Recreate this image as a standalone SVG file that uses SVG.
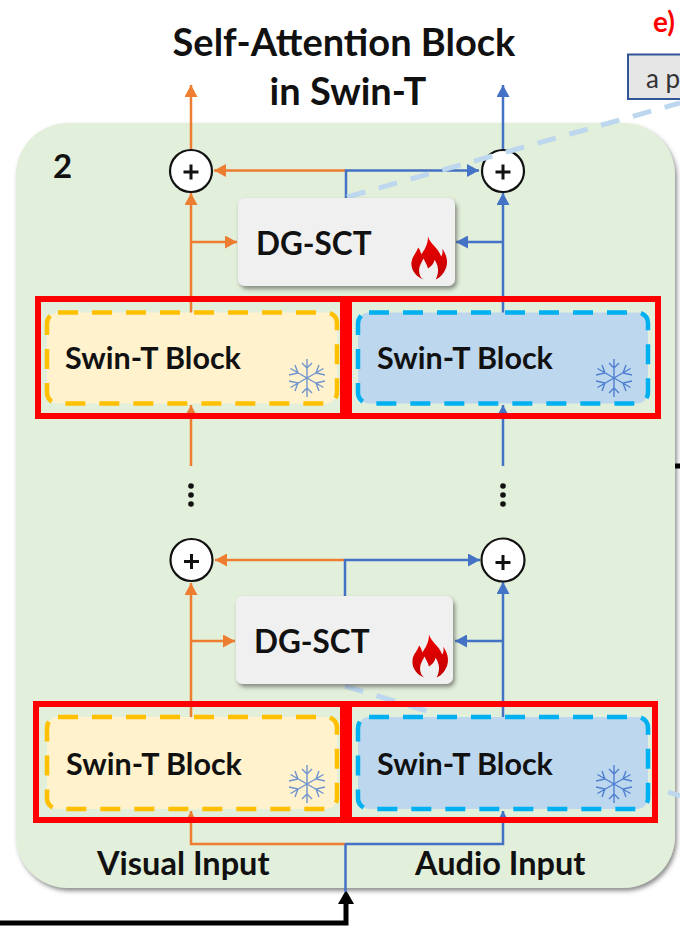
<svg xmlns="http://www.w3.org/2000/svg" width="680" height="930" viewBox="0 0 680 930">
<defs>
<filter id="sh" x="-10%" y="-10%" width="120%" height="120%"><feDropShadow dx="2" dy="3" stdDeviation="2" flood-color="#444" flood-opacity=".6"/></filter>
<linearGradient id="fl" x1="0" y1="0" x2="0" y2="1"><stop offset="0" stop-color="#f00000"/><stop offset="1" stop-color="#c00000"/></linearGradient>
<marker id="ao" markerUnits="userSpaceOnUse" markerWidth="13" markerHeight="13" refX="12" refY="6.5" orient="auto"><path d="M0 0L12 6.5L0 13z" fill="#ed7d31"/></marker>
<marker id="ab" markerUnits="userSpaceOnUse" markerWidth="13" markerHeight="13" refX="12" refY="6.5" orient="auto"><path d="M0 0L12 6.5L0 13z" fill="#4472c4"/></marker>
<g id="snow" fill="none" stroke-width="1.4">
<path d="M0-19V19M-16.500-9.500L16.500 9.500M-16.500 9.500L16.500-9.500M-5-15L0-10L5-15M-5 15L0 10L5 15M-18-3L-9-5L-12-13M18 3L9 5L12 13M-18 3L-9 5L-12 13M18-3L9-5L12-13"/>
</g>
<path id="flame" d="M0-24C2-17 9-14 12-6C14-9 13-12 13-13C18-6 19 2 14 9C12 12 9 14 7 15C10 9 10 3 6-3C5 1 3 3 0 5C-1 1-3-1-4-4C-6 0-10 5-7 12C-6 14-5 14-4 15C-10 13-16 7-15-1C-14-7-11-8-9-14C-7-12-7-10-6-8C-3-12 0-17 0-24z" fill="url(#fl)"/>
</defs>
<style>
text{font-family:Lato,"Liberation Sans",sans-serif;font-weight:700;fill:#111}
.t{font-size:30.500px}
.title{font-size:38px;text-anchor:middle}
.dg{font-size:31.500px}
.lab{font-size:32.500px}
.o{stroke:#ed7d31;stroke-width:2.500;fill:none}
.b{stroke:#4472c4;stroke-width:2.500;fill:none}
.red{fill:none;stroke:#f00;stroke-width:6}
.sum{fill:#fff;stroke:#111;stroke-width:2.200}
.plus{stroke:#111;stroke-width:3}
.pv{fill:#fff2cc;stroke:#ffc000;stroke-width:4.500;stroke-dasharray:20 14}
.pa{fill:#bdd7ee;stroke:#00b0f0;stroke-width:4.500;stroke-dasharray:20 14}
.dgb{fill:#f0f0f0;filter:url(#sh)}
.dash{stroke:#bdd7ee;stroke-width:5;fill:none;stroke-dasharray:19 14}
</style>
<text x="344" y="56" class="title">Self-Attention Block</text>
<text x="348" y="105" class="title">in Swin-T</text>
<text x="653" y="32" style="font-size:28px;fill:#f00">e)</text>
<g id="prompt"><rect x="628" y="54.500" width="60" height="44.500" fill="#e7e6e6" stroke="#2f5597" stroke-width="2"/><text x="646" y="88" style="font-size:26px;font-weight:400;fill:#333">a p</text></g>
<rect id="panel" x="16" y="123" width="659" height="765" rx="52" fill="#e2efda" filter="url(#sh)"/>
<text x="53" y="178" style="font-size:33px">2</text>
<path d="M0 923H346V902" fill="none" stroke="#000" stroke-width="5"/>
<path d="M338 904L346 890L354 904z" fill="#000"/>
<g id="connectors">
<path class="o" d="M191 150V85" marker-end="url(#ao)"/>
<path class="b" d="M503 150V85" marker-end="url(#ab)"/>
<path class="o" d="M346 170.500H214" marker-end="url(#ao)"/>
<path class="b" d="M346 198V170.500H479" marker-end="url(#ab)"/>
<path class="o" d="M191 313V193" marker-end="url(#ao)"/>
<path class="o" d="M191 242H237" marker-end="url(#ao)"/>
<path class="b" d="M503 313V193" marker-end="url(#ab)"/>
<path class="b" d="M503 242H456" marker-end="url(#ab)"/>
<path class="o" d="M191 466V405" marker-end="url(#ao)"/>
<path class="b" d="M503 466V405" marker-end="url(#ab)"/>
<path class="o" d="M345 560H215" marker-end="url(#ao)"/>
<path class="b" d="M345 597V560H480" marker-end="url(#ab)"/>
<path class="o" d="M191 717V583" marker-end="url(#ao)"/>
<path class="o" d="M191 641H235" marker-end="url(#ao)"/>
<path class="b" d="M503 717V582" marker-end="url(#ab)"/>
<path class="b" d="M503 641H455" marker-end="url(#ab)"/>
<path class="o" d="M345 844H191V811" marker-end="url(#ao)"/>
<path class="b" d="M345 844H503V811" marker-end="url(#ab)"/>
<path class="b" d="M345.500 844V892"/>
</g>
<path class="dash" d="M345 686L430 712"/>
<path class="dash" d="M668 792L680 796"/>
<g id="add1"><circle class="sum" cx="191" cy="171" r="21"/><path class="plus" d="M191 164.500V179.500M183.500 172H198.500"/></g>
<g id="add2"><circle class="sum" cx="503" cy="171" r="21"/><path class="plus" d="M503 164.500V179.500M495.500 172H510.500"/></g>
<g id="add3"><circle class="sum" cx="191.500" cy="560" r="21"/><path class="plus" d="M191.500 554V569M184 561.500H199"/></g>
<g id="add4"><circle class="sum" cx="503" cy="560" r="21.500"/><path class="plus" d="M503 555V570M495.500 562.500H510.500"/></g>
<path class="dash" d="M347 197L680 103"/>
<g id="dg1"><rect class="dgb" x="238" y="198" width="217" height="88" rx="7"/><text x="256" y="255" class="dg">DG-SCT</text><use href="#flame" transform="translate(428 263) scale(1.100)"/></g>
<g id="dg2"><rect class="dgb" x="236" y="596" width="217" height="88" rx="7"/><text x="254" y="653" class="dg">DG-SCT</text><use href="#flame" transform="translate(429 661) scale(1.100)"/></g>
<g id="sw1"><rect class="pv" x="47" y="312.500" width="290" height="91" rx="11"/><text x="65" y="369" class="t">Swin-T Block</text><use href="#snow" x="307" y="378" stroke="#6f94cf"/></g>
<g id="sw2"><rect class="pa" x="358" y="312.500" width="290" height="91" rx="11"/><text x="377" y="369" class="t">Swin-T Block</text><use href="#snow" x="614" y="378" stroke="#4f7fcf"/></g>
<g id="sw3"><rect class="pv" x="47" y="717" width="290" height="92" rx="11"/><text x="66" y="775" class="t">Swin-T Block</text><use href="#snow" x="307" y="784" stroke="#6f94cf"/></g>
<g id="sw4"><rect class="pa" x="358" y="717" width="290" height="92" rx="11"/><text x="377" y="775" class="t">Swin-T Block</text><use href="#snow" x="614" y="784" stroke="#4f7fcf"/></g>
<rect class="red" x="38" y="299" width="305" height="117"/>
<rect class="red" x="349" y="299" width="309" height="117"/>
<rect class="red" x="36" y="704" width="307" height="116"/>
<rect class="red" x="349" y="704" width="306" height="116"/>
<g fill="#111"><circle cx="191" cy="486" r="2.800"/><circle cx="191" cy="495" r="2.800"/><circle cx="191" cy="504" r="2.800"/><circle cx="503" cy="486" r="2.800"/><circle cx="503" cy="495" r="2.800"/><circle cx="503" cy="504" r="2.800"/></g>
<text x="97" y="875" class="lab">Visual Input</text>
<text x="415" y="875" class="lab">Audio Input</text>
<path d="M675 466H680" stroke="#000" stroke-width="5"/>
</svg>
